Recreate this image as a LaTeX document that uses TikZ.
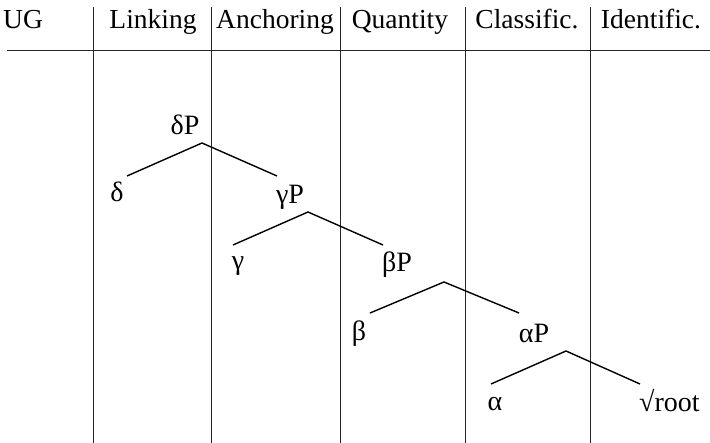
\documentclass[tikz,border=0pt]{standalone}
\usepackage{fontspec}
\setmainfont{Liberation Serif}
\begin{document}
\begin{tikzpicture}[x=1pt,y=-1pt,
  grid/.style={line width=0.9pt,draw=black!85},
  branch/.style={line width=1.4pt},
  lbl/.style={inner sep=0pt,anchor=base,font=\fontsize{28}{32}\selectfont},
  hdr/.style={inner sep=0pt,anchor=base,font=\fontsize{27.5}{32}\selectfont}]
\useasboundingbox (0,0) rectangle (710,443);
% table grid
\coordinate (hl) at (7,50);
\coordinate (hr) at (710,50);
\draw[grid] (hl) -- (hr);
\foreach \x/\n in {93/a,211/b,340/c,465/d,590/e}{
  \coordinate (top\n) at (\x,7);
  \coordinate (bot\n) at (\x,443);
  \draw[grid] (top\n) -- (bot\n);
}
% headers
\node[hdr,anchor=base west] (hUG) at (3,29) {UG};
\node[hdr] (hL) at (153,29) {Linking};
\node[hdr] (hA) at (275,29) {Anchoring};
\node[hdr] (hQ) at (400,29) {Quantity};
\node[hdr] (hC) at (527,29) {Classific.};
\node[hdr] (hI) at (651,29) {Identific.};
% tree labels
\node[lbl] (dP) at (185,135) {δP};
\node[lbl] (d) at (117,202) {δ};
\node[lbl] (gP) at (290,204) {γP};
\node[lbl] (g) at (238,270) {γ};
\node[lbl] (bP) at (397,272) {βP};
\node[lbl] (b) at (359,341) {β};
\node[lbl] (aP) at (534,343) {αP};
\node[lbl] (a) at (495,411) {α};
\node[lbl,anchor=base west] (root) at (639,412) {√root};
% branch points
\coordinate (dtop) at (202,143); \coordinate (dl) at (127,176); \coordinate (dr) at (277,176);
\coordinate (gtop) at (308,212); \coordinate (gl) at (233,245); \coordinate (gr) at (383,245);
\coordinate (btop) at (444,282); \coordinate (bl) at (370,313); \coordinate (br) at (519,313);
\coordinate (atop) at (566,351); \coordinate (al) at (491,384); \coordinate (ar) at (640,384);
\draw[branch] (dl) -- (dtop) -- (dr);
\draw[branch] (gl) -- (gtop) -- (gr);
\draw[branch] (bl) -- (btop) -- (br);
\draw[branch] (al) -- (atop) -- (ar);
\end{tikzpicture}
\end{document}
